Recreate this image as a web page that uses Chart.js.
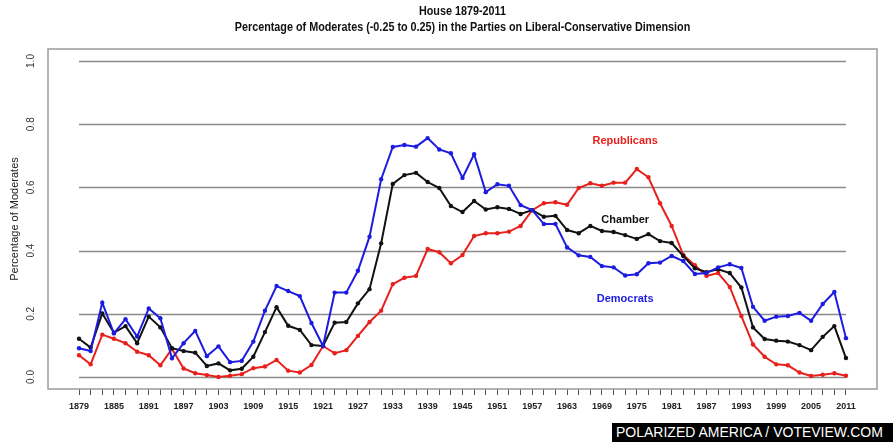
<!DOCTYPE html>
<html>
<head>
<meta charset="utf-8">
<script src="https://cdn.jsdelivr.net/npm/chart.js@4"></script>
<style>
  body { margin: 0; background: #fff; }
  #wrap { position: relative; width: 893px; height: 442px; }
  #stamp {
    position: absolute; left: 612px; top: 423px; width: 281px; height: 19px;
    background: #000; color: #fff; font: 14px "Liberation Sans", Arial, sans-serif;
    line-height: 19px; padding-left: 4px; box-sizing: border-box; white-space: nowrap;
  }
</style>
</head>
<body>
<div id="wrap">
  <canvas id="chart" width="893" height="442"></canvas>
  <div id="stamp">POLARIZED AMERICA / VOTEVIEW.COM</div>
</div>
<script>
const years = [1879, 1881, 1883, 1885, 1887, 1889, 1891, 1893, 1895, 1897, 1899, 1901, 1903, 1905, 1907, 1909,
  1911, 1913, 1915, 1917, 1919, 1921, 1923, 1925, 1927, 1929, 1931, 1933, 1935, 1937, 1939, 1941, 1943, 1945,
  1947, 1949, 1951, 1953, 1955, 1957, 1959, 1961, 1963, 1965, 1967, 1969, 1971, 1973, 1975, 1977, 1979, 1981,
  1983, 1985, 1987, 1989, 1991, 1993, 1995, 1997, 1999, 2001, 2003, 2005, 2007, 2009, 2011];

const democrats = [0.091, 0.082, 0.235, 0.138, 0.183, 0.128, 0.217, 0.186, 0.059, 0.107, 0.146, 0.066, 0.097,
  0.047, 0.051, 0.112, 0.210, 0.288, 0.272, 0.256, 0.171, 0.098, 0.267, 0.267, 0.336, 0.444, 0.626, 0.728,
  0.734, 0.729, 0.756, 0.720, 0.708, 0.630, 0.705, 0.585, 0.610, 0.605, 0.544, 0.528, 0.484, 0.484, 0.410,
  0.385, 0.380, 0.351, 0.347, 0.321, 0.325, 0.360, 0.362, 0.383, 0.367, 0.326, 0.329, 0.347, 0.357, 0.345,
  0.222, 0.178, 0.191, 0.193, 0.203, 0.178, 0.231, 0.269, 0.123];

const chamber = [0.121, 0.093, 0.201, 0.140, 0.161, 0.107, 0.191, 0.157, 0.091, 0.082, 0.077, 0.035, 0.043,
  0.021, 0.026, 0.064, 0.142, 0.221, 0.162, 0.149, 0.101, 0.098, 0.172, 0.174, 0.233, 0.278, 0.423, 0.611,
  0.639, 0.646, 0.617, 0.598, 0.541, 0.522, 0.557, 0.530, 0.537, 0.532, 0.516, 0.528, 0.507, 0.510, 0.465,
  0.455, 0.478, 0.462, 0.459, 0.449, 0.437, 0.452, 0.430, 0.424, 0.383, 0.344, 0.332, 0.341, 0.329, 0.283,
  0.157, 0.120, 0.115, 0.112, 0.101, 0.085, 0.127, 0.161, 0.060];

const republicans = [0.069, 0.040, 0.134, 0.121, 0.107, 0.080, 0.069, 0.037, 0.089, 0.027, 0.012, 0.006, 0.000,
  0.004, 0.009, 0.028, 0.033, 0.054, 0.020, 0.014, 0.038, 0.098, 0.075, 0.085, 0.130, 0.174, 0.210, 0.294,
  0.314, 0.320, 0.405, 0.395, 0.360, 0.386, 0.446, 0.455, 0.455, 0.460, 0.478, 0.528, 0.550, 0.553, 0.545,
  0.598, 0.613, 0.605, 0.615, 0.615, 0.658, 0.632, 0.550, 0.478, 0.386, 0.354, 0.320, 0.329, 0.285, 0.193,
  0.103, 0.064, 0.040, 0.037, 0.014, 0.003, 0.007, 0.012, 0.004];

const yTicks = [0.0, 0.2, 0.4, 0.6, 0.8, 1.0];

const titleLines = ["House 1879-2011", "Percentage of Moderates (-0.25 to 0.25) in the Parties on Liberal-Conservative Dimension"];

// series names written inside the plot: [text, congress index, value, colour]
const seriesLabels = [
  ["Republicans", 47, 0.748, "#e8201c"],
  ["Chamber", 47, 0.497, "#111111"],
  ["Democrats", 47, 0.247, "#1c1ce0"]
];

const RED = "#e8201c", BLUE = "#1c1ce0", BLACK = "#111111";

function toPoints(values) {
  return values.map((v, i) => ({ x: i, y: v }));
}

function series(label, values, color, order) {
  return {
    label: label,
    data: toPoints(values),
    borderColor: color,
    backgroundColor: color,
    borderWidth: 2,
    pointRadius: 2.2,
    pointBorderWidth: 0,
    pointBackgroundColor: color,
    tension: 0,
    order: order
  };
}

// gridlines, plot box, y tick labels, title and series names
const framePlugin = {
  id: "frame",
  beforeDatasetsDraw(chart) {
    const { ctx, chartArea, scales } = chart;
    const x0 = scales.x.getPixelForValue(0);
    const x1 = scales.x.getPixelForValue(years.length - 1);
    ctx.save();
    ctx.strokeStyle = "#8a8a8a";
    ctx.lineWidth = 1.3;
    yTicks.forEach(t => {
      const y = Math.round(scales.y.getPixelForValue(t)) + 0.5;
      ctx.beginPath();
      ctx.moveTo(x0, y);
      ctx.lineTo(x1, y);
      ctx.stroke();
    });
    ctx.strokeStyle = "#9a9a9a";
    ctx.lineWidth = 1.5;
    ctx.strokeRect(chartArea.left, chartArea.top, chartArea.right - chartArea.left, chartArea.bottom - chartArea.top);

    ctx.fillStyle = "#333";
    ctx.font = "10px 'Liberation Sans', Arial, sans-serif";
    ctx.textAlign = "center";
    ctx.textBaseline = "middle";
    yTicks.forEach(t => {
      ctx.save();
      ctx.translate(31, scales.y.getPixelForValue(t));
      ctx.rotate(-Math.PI / 2);
      ctx.fillText(t.toFixed(1), 0, 0);
      ctx.restore();
    });
    ctx.restore();
  },
  afterDatasetsDraw(chart) {
    const { ctx, chartArea, scales } = chart;
    ctx.save();
    ctx.font = "bold 11px 'Liberation Sans', Arial, sans-serif";
    ctx.textAlign = "center";
    ctx.textBaseline = "middle";
    seriesLabels.forEach(([text, i, v, color]) => {
      ctx.fillStyle = color;
      ctx.fillText(text, scales.x.getPixelForValue(i), scales.y.getPixelForValue(v));
    });

    // narrow bold title, centred over the plot box
    const cx = (chartArea.left + chartArea.right) / 2;
    ctx.fillStyle = "#111";
    ctx.font = "bold 12px 'Liberation Sans', Arial, sans-serif";
    titleLines.forEach((line, k) => {
      ctx.save();
      ctx.translate(cx, 11.5 + k * 16);
      ctx.scale(0.9, 1);
      ctx.fillText(line, 0, 0);
      ctx.restore();
    });
    ctx.restore();
  }
};

new Chart(document.getElementById("chart"), {
  type: "line",
  data: {
    datasets: [
      series("Democrats", democrats, BLUE, 1),
      series("Chamber", chamber, BLACK, 2),
      series("Republicans", republicans, RED, 3)
    ]
  },
  options: {
    responsive: false,
    animation: false,
    layout: { padding: { left: 0, right: 16, top: 49, bottom: 0 } },
    plugins: {
      legend: { display: false },
      tooltip: { enabled: false },
      title: { display: false }
    },
    scales: {
      x: {
        type: "linear",
        min: -2.67,
        max: 68.67,
        afterBuildTicks(scale) {
          scale.ticks = years.map((y, i) => ({ value: i }));
        },
        afterFit(scale) { scale.height = 53; },
        grid: { display: true, drawOnChartArea: false, drawTicks: true, tickLength: 6, color: "#555", lineWidth: 1 },
        border: { display: false },
        ticks: {
          autoSkip: false,
          maxRotation: 0,
          minRotation: 0,
          padding: 6,
          color: "#222",
          font: { family: "'Liberation Sans', Arial, sans-serif", size: 9, weight: "bold" },
          callback: (value) => (value % 3 === 0 ? String(years[value]) : "")
        }
      },
      y: {
        min: -0.038,
        max: 1.038,
        afterBuildTicks(scale) {
          scale.ticks = yTicks.map(v => ({ value: v }));
        },
        afterFit(scale) { scale.width = 48; },
        grid: { display: false },
        border: { display: false },
        ticks: { display: false },
        title: {
          display: true,
          text: "Percentage of Moderates",
          color: "#222",
          font: { family: "'Liberation Sans', Arial, sans-serif", size: 11 },
          padding: { top: 8, bottom: 0 }
        }
      }
    }
  },
  plugins: [framePlugin]
});
</script>
</body>
</html>
